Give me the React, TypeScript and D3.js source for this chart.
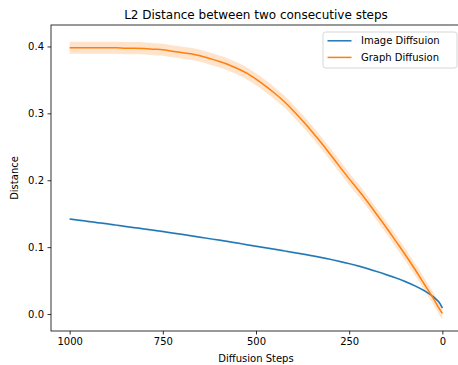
import { useRef, useEffect } from "react";
import * as d3 from "d3";

// diffusion steps sampled every 25 (plus one near the end)
const steps = [
  1000, 975, 950, 925, 900, 875, 850, 825, 800, 775, 750, 725, 700, 675, 650,
  625, 600, 575, 550, 525, 500, 475, 450, 425, 400, 375, 350, 325, 300, 275,
  250, 225, 200, 175, 150, 125, 100, 75, 50, 25, 5, 0,
];

const graphMean = [
  0.398, 0.398, 0.398, 0.398, 0.398, 0.398, 0.3975, 0.3975, 0.397, 0.396,
  0.395, 0.393, 0.391, 0.389, 0.386, 0.382, 0.378, 0.373, 0.367, 0.36, 0.351,
  0.341, 0.33, 0.318, 0.304, 0.289, 0.273, 0.256, 0.238, 0.22, 0.202, 0.185,
  0.167, 0.148, 0.129, 0.109, 0.089, 0.068, 0.046, 0.024, 0.005, 0.001,
];

const graphStd = [
  0.009, 0.009, 0.009, 0.009, 0.009, 0.009, 0.009, 0.009, 0.009, 0.009, 0.009,
  0.009, 0.009, 0.009, 0.009, 0.009, 0.009, 0.009, 0.009, 0.009, 0.009, 0.009,
  0.009, 0.009, 0.009, 0.009, 0.009, 0.009, 0.009, 0.009, 0.009, 0.009, 0.009,
  0.009, 0.009, 0.009, 0.009, 0.009, 0.009, 0.009, 0.009, 0.009,
];

const imageMean = [
  0.142, 0.1402, 0.1384, 0.1366, 0.1348, 0.1329, 0.131, 0.1291, 0.1272,
  0.1252, 0.1232, 0.1212, 0.1191, 0.117, 0.1149, 0.1127, 0.1105, 0.1083,
  0.106, 0.1037, 0.1014, 0.0991, 0.0968, 0.0944, 0.092, 0.0896, 0.0871,
  0.0845, 0.0817, 0.0786, 0.0753, 0.0717, 0.0677, 0.0634, 0.0588, 0.054,
  0.0486, 0.0425, 0.0353, 0.026, 0.0145, 0.009,
];

const imageStd = [
  0.0015, 0.0015, 0.0015, 0.0015, 0.0015, 0.0015, 0.0015, 0.0015, 0.0015,
  0.0015, 0.0015, 0.0015, 0.0015, 0.0015, 0.0015, 0.0015, 0.0015, 0.0015,
  0.0015, 0.0015, 0.0015, 0.0015, 0.0015, 0.0015, 0.0015, 0.0015, 0.0015,
  0.0015, 0.0015, 0.0015, 0.0015, 0.0015, 0.0015, 0.0015, 0.0015, 0.0015,
  0.0015, 0.0015, 0.0015, 0.0015, 0.0015, 0.0015,
];

const seriesNames = ["Image Diffsuion", "Graph Diffusion"];
const seriesColors = ["#1f77b4", "#ff7f0e"];
const xTicks = [1000, 750, 500, 250, 0];
const yTicks = [0.0, 0.1, 0.2, 0.3, 0.4];

const FONT = "DejaVu Sans, sans-serif";

export default function App() {
  const svgRef = useRef<SVGSVGElement>(null);

  useEffect(() => {
    if (!svgRef.current) return;
    const svg = d3.select(svgRef.current);
    svg.selectAll("*").remove();

    const width = 458;
    const height = 365;
    const box = { left: 51, right: 461, top: 25, bottom: 331 };

    const x = d3.scaleLinear().domain([1050, -50]).range([box.left, box.right]);
    const y = d3
      .scaleLinear()
      .domain([-0.0254, 0.4321])
      .range([box.bottom, box.top]);

    svg.attr("width", width).attr("height", height);
    svg.append("rect").attr("width", width).attr("height", height).attr("fill", "#fff");

    const series = [
      { mean: imageMean, std: imageStd },
      { mean: graphMean, std: graphStd },
    ];

    const plot = svg.append("g");

    // std bands
    series.forEach((s, i) => {
      const pts = steps.map((t, k) => ({ t, m: s.mean[k], sd: s.std[k] }));
      const area = d3
        .area<(typeof pts)[0]>()
        .x((d) => x(d.t))
        .y0((d) => y(d.m - d.sd))
        .y1((d) => y(d.m + d.sd))
        .curve(d3.curveMonotoneX);
      plot
        .append("path")
        .datum(pts)
        .attr("d", area)
        .attr("fill", seriesColors[i])
        .attr("fill-opacity", 0.22);
    });

    // mean lines
    series.forEach((s, i) => {
      const pts = steps.map((t, k) => ({ t, m: s.mean[k] }));
      const line = d3
        .line<(typeof pts)[0]>()
        .x((d) => x(d.t))
        .y((d) => y(d.m))
        .curve(d3.curveMonotoneX);
      plot
        .append("path")
        .datum(pts)
        .attr("d", line)
        .attr("fill", "none")
        .attr("stroke", seriesColors[i])
        .attr("stroke-width", 1.5);
    });

    // spines
    svg
      .append("rect")
      .attr("x", box.left)
      .attr("y", box.top)
      .attr("width", box.right - box.left)
      .attr("height", box.bottom - box.top)
      .attr("fill", "none")
      .attr("stroke", "#000")
      .attr("stroke-width", 0.8);

    // axes
    const xa = svg
      .append("g")
      .attr("transform", `translate(0,${box.bottom})`)
      .call(d3.axisBottom(x).tickValues(xTicks).tickSize(3.5).tickPadding(3.5).tickFormat(d3.format("d")));
    xa.select(".domain").remove();
    xa.selectAll("line").attr("stroke-width", 0.8);
    xa.selectAll("text").attr("font-family", FONT).attr("font-size", 10).attr("fill", "#000");

    const ya = svg
      .append("g")
      .attr("transform", `translate(${box.left},0)`)
      .call(d3.axisLeft(y).tickValues(yTicks).tickSize(3.5).tickPadding(3.5).tickFormat(d3.format(".1f")));
    ya.select(".domain").remove();
    ya.selectAll("line").attr("stroke-width", 0.8);
    ya.selectAll("text").attr("font-family", FONT).attr("font-size", 10).attr("fill", "#000");

    // labels
    svg
      .append("text")
      .attr("x", (box.left + box.right) / 2)
      .attr("y", 19)
      .attr("text-anchor", "middle")
      .attr("font-family", FONT)
      .attr("font-size", 12)
      .text("L2 Distance between two consecutive steps");

    svg
      .append("text")
      .attr("x", (box.left + box.right) / 2)
      .attr("y", 362)
      .attr("text-anchor", "middle")
      .attr("font-family", FONT)
      .attr("font-size", 10)
      .text("Diffusion Steps");

    svg
      .append("text")
      .attr("transform", `translate(18,${(box.top + box.bottom) / 2}) rotate(-90)`)
      .attr("text-anchor", "middle")
      .attr("font-family", FONT)
      .attr("font-size", 10)
      .text("Distance");

    // legend
    const lg = svg.append("g").attr("transform", "translate(323,32)");
    lg.append("rect")
      .attr("width", 134)
      .attr("height", 36)
      .attr("rx", 2.5)
      .attr("fill", "#fff")
      .attr("fill-opacity", 0.8)
      .attr("stroke", "#cccccc")
      .attr("stroke-width", 0.8);
    seriesNames.forEach((name, i) => {
      const cy = 8.8 + i * 16.6;
      lg.append("line")
        .attr("x1", 4.5)
        .attr("x2", 28.5)
        .attr("y1", cy)
        .attr("y2", cy)
        .attr("stroke", seriesColors[i])
        .attr("stroke-width", 1.5);
      lg.append("text")
        .attr("x", 38)
        .attr("y", cy + 3.6)
        .attr("font-family", FONT)
        .attr("font-size", 10)
        .text(name);
    });
  }, []);

  return (
    <svg
      ref={svgRef}
      style={{ position: "absolute", left: 0, top: 0, display: "block" }}
    />
  );
}
